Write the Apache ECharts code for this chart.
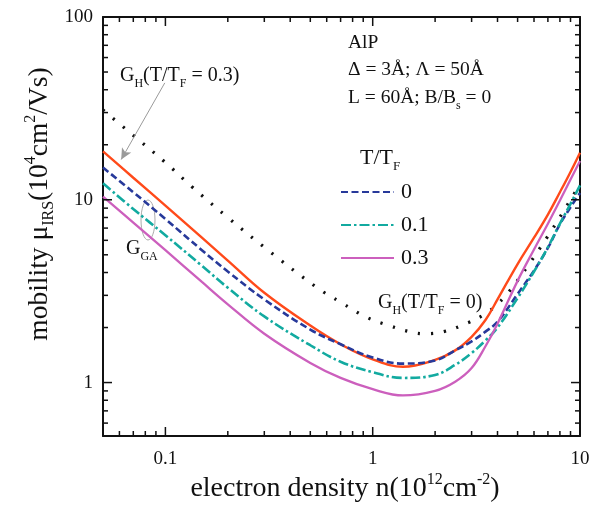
<!DOCTYPE html>
<html>
<head>
<meta charset="utf-8">
<script src="https://cdn.jsdelivr.net/npm/echarts@6/dist/echarts.min.js"></script>
<style>html,body{margin:0;padding:0;background:#fff}#c{width:612px;height:509px}</style>
</head>
<body>
<div id="c"></div>
<script>
// ---- data ----
const density = [0.05, 0.07, 0.1, 0.15, 0.2, 0.3, 0.5, 0.7, 1.0, 1.4, 2.0, 2.5, 3.0, 3.5, 4.0, 5.0, 6.0, 7.0, 8.0, 9.0, 10];
const muGH03 = [18.4, 13.2, 9.3, 6.2, 4.65, 3.1, 2.05, 1.62, 1.34, 1.22, 1.33, 1.5, 1.78, 2.2, 2.85, 4.45, 6.2, 8.3, 11.0, 14.2, 18.1];
const muT0   = [15.0, 11.0, 7.85, 5.3, 4.05, 2.85, 1.95, 1.62, 1.37, 1.27, 1.32, 1.5, 1.68, 1.9, 2.15, 3.05, 4.1, 5.45, 7.35, 9.1, 10.9];
const muT01  = [12.3, 8.9, 6.4, 4.35, 3.3, 2.3, 1.6, 1.3, 1.14, 1.06, 1.1, 1.25, 1.45, 1.7, 2.0, 2.9, 4.05, 5.5, 7.4, 9.5, 12.0];
const muT03  = [10.4, 7.5, 5.3, 3.55, 2.68, 1.85, 1.28, 1.06, 0.92, 0.85, 0.9, 1.01, 1.2, 1.58, 2.1, 3.6, 5.35, 7.4, 9.9, 12.9, 16.3];
const densityGH0 = [0.05, 0.07, 0.1, 0.134, 0.2, 0.3, 0.54, 0.7, 0.94, 1.2, 1.5, 1.77, 2.2, 2.9, 3.44, 3.9, 4.5, 5.65, 6.97, 8.3, 10];
const muGH0 = [31, 22.5, 16, 11.8, 8.0, 5.5, 3.3, 2.75, 2.27, 2.05, 1.9, 1.85, 1.9, 2.13, 2.35, 2.62, 3.1, 4.41, 6.28, 8.6, 12.2];
const legendNames = ['0', '0.1', '0.3'];
const xLabels = [0.1, 1, 10];
const yLabels = [1, 10, 100];
const xMinor = [0.06,0.07,0.08,0.09,0.2,0.3,0.4,0.5,0.6,0.7,0.8,0.9,2,3,4,5,6,7,8,9];
const yMinor = [0.6,0.7,0.8,0.9,2,3,4,5,6,7,8,9,20,30,40,50,60,70,80,90];
const X_MIN = 0.05, X_MAX = 10, Y_MIN = 0.51, Y_MAX = 100;

const FONT = '"Liberation Serif","DejaVu Serif",serif';
const zip = (xs, ys) => xs.map((x, i) => [x, ys[i]]);
const isIn = (v, arr) => arr.some(a => Math.abs(v - a) / a < 1e-6);

const chart = echarts.init(document.getElementById('c'), null, {renderer: 'canvas'});
function axisBase() {
  return {
    type: 'log', logBase: 10,
    axisLine: {show: true, onZero: false, lineStyle: {color: '#111', width: 2}},
    axisTick: {show: false},
    splitLine: {show: false}, minorTick: {show: false}
  };
}
const tickLen = {minor: 5, major: 9};
const TW = 1.5;
// ticks drawn as thin filled rectangles placed through the axis scales
function tickSeries(values, kind, len) {
  return {
    type: 'custom', silent: true, clip: false, z: 6,
    data: values.map(v => kind === 'x' ? [v, 1] : [1, v]),
    renderItem: function (params, api) {
      const cs = params.coordSys;
      const st = () => ({fill: '#111'});
      if (kind === 'x') {
        const px = api.coord([api.value(0), 1])[0];
        return {type: 'group', children: [
          {type: 'rect', shape: {x: px - TW / 2, y: cs.y + cs.height - len, width: TW, height: len}, style: st()},
          {type: 'rect', shape: {x: px - TW / 2, y: cs.y, width: TW, height: len}, style: st()}
        ]};
      }
      const py = api.coord([1, api.value(1)])[1];
      return {type: 'group', children: [
        {type: 'rect', shape: {x: cs.x, y: py - TW / 2, width: len, height: TW}, style: st()},
        {type: 'rect', shape: {x: cs.x + cs.width - len, y: py - TW / 2, width: len, height: TW}, style: st()}
      ]};
    }
  };
}
const sub = (fs, lh) => ({fontSize: fs, verticalAlign: 'bottom', fontFamily: FONT, fill: '#111', lineHeight: lh});
const sup = (fs, lh) => ({fontSize: fs, verticalAlign: 'top', fontFamily: FONT, fill: '#111', lineHeight: lh});

chart.setOption({
  animation: false,
  grid: {left: 103, right: 32, top: 17, bottom: 73},
  xAxis: [
    Object.assign(axisBase(), {min: X_MIN, max: X_MAX, position: 'bottom',
      axisLabel: {show: true, margin: 14, color: '#111', fontSize: 19, fontFamily: FONT,
        formatter: v => isIn(v, xLabels) ? String(v) : ''}}),
    Object.assign(axisBase(), {min: X_MIN, max: X_MAX, position: 'top', axisLabel: {show: false}})
  ],
  yAxis: [
    Object.assign(axisBase(), {min: Y_MIN, max: Y_MAX, position: 'left',
      axisLabel: {show: true, margin: 10, color: '#111', fontSize: 19, fontFamily: FONT,
        formatter: v => isIn(v, yLabels) ? String(v) : ''}}),
    Object.assign(axisBase(), {min: Y_MIN, max: Y_MAX, position: 'right', axisLabel: {show: false}})
  ],
  legend: {
    data: legendNames, orient: 'vertical', left: 340, top: 181, padding: 0,
    itemWidth: 53, itemHeight: 14, itemGap: 11, selectedMode: false,
    itemStyle: {opacity: 0},
    textStyle: {fontSize: 22, fontFamily: FONT, color: '#111', lineHeight: 22, padding: [0, 0, 0, 2]}
  },
  series: [
    tickSeries(xMinor, 'x', tickLen.minor),
    tickSeries(yMinor, 'y', tickLen.minor),
    tickSeries(xLabels, 'x', tickLen.major),
    tickSeries(yLabels, 'y', tickLen.major),
    {type: 'line', name: 'GH0', data: zip(densityGH0, muGH0), symbol: 'none', smooth: 0.4,
      lineStyle: {color: '#111', width: 3.2, type: [2.2, 10.8]}},
    {type: 'line', name: 'GH03', data: zip(density, muGH03), symbol: 'none', smooth: 0.4,
      lineStyle: {color: '#ff4a1a', width: 2.4},
      markLine: {silent: true, symbol: ['none', 'arrow'], symbolSize: [8, 11],
        label: {show: false}, lineStyle: {color: '#9a9a9a', width: 1, type: 'solid'},
        data: [[{coord: [0.0993, 43.6]}, {coord: [0.0612, 16.6]}]]}},
    {type: 'line', name: '0', data: zip(density, muT0), symbol: 'none', smooth: 0.4,
      itemStyle: {color: '#27399a'}, lineStyle: {color: '#27399a', width: 2.6, type: [7, 3.5]}},
    {type: 'line', name: '0.1', data: zip(density, muT01), symbol: 'none', smooth: 0.4,
      itemStyle: {color: '#12aaa0'}, lineStyle: {color: '#12aaa0', width: 2.6, type: [10, 3, 2.5, 3]}},
    {type: 'line', name: '0.3', data: zip(density, muT03), symbol: 'none', smooth: 0.4,
      itemStyle: {color: '#cc5fbd'}, lineStyle: {color: '#cc5fbd', width: 2.3}}
  ],
  graphic: [
    {type: 'text', x: 40, y: 204, rotation: Math.PI / 2,
      style: {text: 'mobility μ{sub|IRS}(10{sup|4}cm{sup|2}/Vs)', rich: {sub: sub(16, 34), sup: sup(16, 34)},
        fontSize: 27.5, fontFamily: FONT, fill: '#111', lineHeight: 34, align: 'center', verticalAlign: 'middle'}},
    {type: 'text', x: 345, y: 489,
      style: {text: 'electron density n(10{sup|12}cm{sup|-2})', rich: {sup: sup(16, 34)},
        fontSize: 28, fontFamily: FONT, fill: '#111', lineHeight: 34, align: 'center', verticalAlign: 'middle'}},
    {type: 'text', x: 348, y: 43, style: {text: 'AlP', fontSize: 19.5, fontFamily: FONT, fill: '#111', verticalAlign: 'middle'}},
    {type: 'text', x: 348, y: 70, style: {text: 'Δ = 3Å; Λ = 50Å', fontSize: 19.5, fontFamily: FONT, fill: '#111', verticalAlign: 'middle'}},
    {type: 'text', x: 348, y: 98, style: {text: 'L = 60Å; B/B{s|s} = 0', fontSize: 19.5, fontFamily: FONT, fill: '#111', lineHeight: 28, verticalAlign: 'middle',
      rich: {s: sub(12, 28)}}},
    {type: 'text', x: 360, y: 158, style: {text: 'T/T{sub|F}', fontSize: 22, fontFamily: FONT, fill: '#111', lineHeight: 30, verticalAlign: 'middle', rich: {sub: sub(13, 30)}}},
    {type: 'text', x: 378, y: 303, style: {text: 'G{sub|H}(T/T{sub|F} = 0)', fontSize: 20, fontFamily: FONT, fill: '#111', lineHeight: 28, verticalAlign: 'middle',
      rich: {sub: sub(12, 28)}}},
    {type: 'text', x: 120, y: 76, style: {text: 'G{sub|H}(T/T{sub|F} = 0.3)', fontSize: 20, fontFamily: FONT, fill: '#111', lineHeight: 28, verticalAlign: 'middle',
      rich: {sub: sub(12, 28)}}},
    {type: 'text', x: 126, y: 249, style: {text: 'G{sub|GA}', fontSize: 20, fontFamily: FONT, fill: '#111', lineHeight: 28, verticalAlign: 'middle',
      rich: {sub: sub(12, 28)}}},
    {type: 'ellipse', shape: {cx: 148, cy: 220, rx: 7, ry: 20}, style: {fill: 'none', stroke: '#aaa', lineWidth: 1}}
  ]
});
</script>
</body>
</html>
